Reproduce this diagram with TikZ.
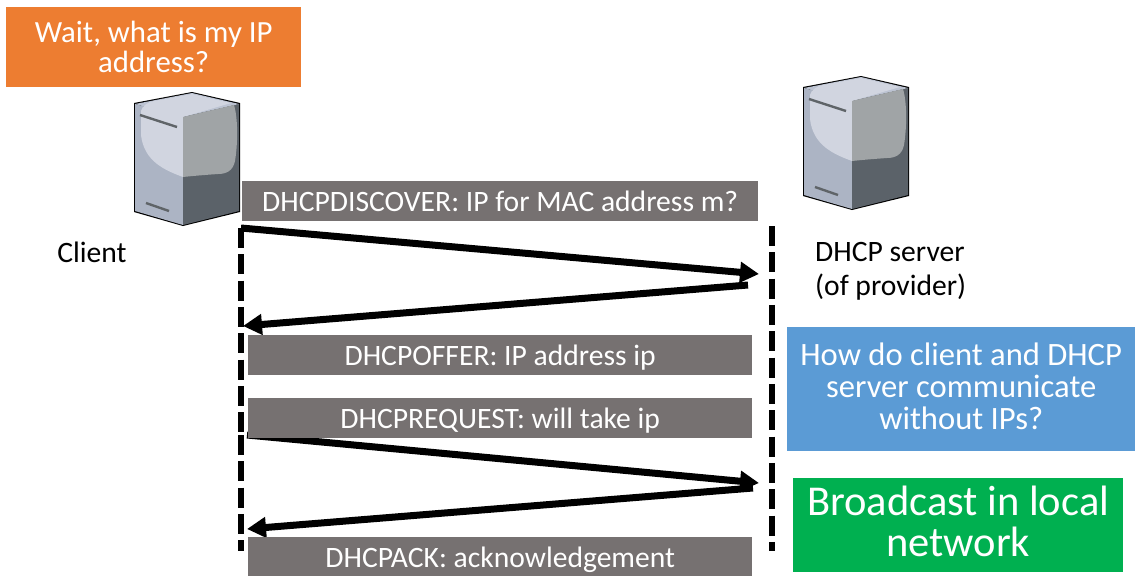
\documentclass[tikz,border=0pt]{standalone}
\usepackage{fontspec}
\setmainfont{Carlito}
\usetikzlibrary{arrows.meta}
\definecolor{cOrange}{HTML}{ED7D31}
\definecolor{cBlue}{HTML}{5B9BD5}
\definecolor{cGreen}{HTML}{00B050}
\definecolor{cGray}{HTML}{767171}
\definecolor{cHiL}{HTML}{D1D5E0}
\definecolor{cLeft}{HTML}{ACB4C4}
\definecolor{cRightDark}{HTML}{5B6269}
\definecolor{cTopFrame}{HTML}{BCC3D2}
\definecolor{cHiR}{HTML}{A0A4A6}
\definecolor{cSlot}{HTML}{5F6468}
\newcommand\liftText[2]{\raisebox{#1}[\height][\depth]{\begin{tabular}{@{}c@{}}#2\end{tabular}}}
\tikzset{
  x=1pt,y=-1pt,
  msgbox/.style={fill=cGray,text=white,inner sep=0pt,font=\fontsize{29.6}{32}\selectfont,anchor=north west,align=center},
  notebox/.style={text=white,inner sep=0pt,anchor=north west,align=center},
  label/.style={inner sep=0pt,font=\fontsize{29.6}{34}\selectfont,text=black},
  lifeline/.style={line width=6.5pt,dash pattern=on 20pt off 6.33pt,draw=black},
  msg/.style={line width=7pt,draw=black,-{Triangle[length=19pt,width=20pt]}},
  pics/serverbox/.style={code={
    \fill[fill=black] (0,0) -- (58,-11) -- (106,0) -- (106,109) -- (49,123) -- (0,109) -- cycle;
    \fill[fill=cLeft] (1,1) -- (49,14) -- (49,122) -- (1,108) -- cycle;
    \fill[fill=cRightDark] (49,14) -- (105,1) -- (105,108) -- (49,122) -- cycle;
    \fill[fill=cTopFrame] (1,1) -- (58,-10) -- (105,1) -- (49,14) -- cycle;
    \fill[fill=cHiL] (7,8) .. controls (8,3) and (14,-1) .. (20,-2) -- (58,-9) -- (97,0) -- (49,14) -- (49,74)
       .. controls (30,67) and (10,58) .. (7,32) -- cycle;
    \fill[fill=cHiR] (49,14) -- (100,2) .. controls (104,15) and (104,40) .. (101,58)
       .. controls (99,68) and (92,71) .. (84,71) .. controls (70,72) and (58,73) .. (49,74) -- cycle;
    \draw[draw=cSlot,line width=2.4pt] (6,12) -- (43,24);
    \draw[draw=cSlot,line width=2.4pt] (12,100) -- (35,108);
  }},
}
\begin{document}
\begin{tikzpicture}
\useasboundingbox (0,0) rectangle (1141,576);
\fill[white] (0,0) rectangle (1141,576);

\pic (clienticon) at (134,103) {serverbox};
\pic (servericon) at (803,87) {serverbox};

\coordinate (leftA) at (241,228);
\coordinate (leftB) at (241,433);
\coordinate (leftC) at (241,435);
\coordinate (leftD) at (241,551);
\coordinate (rightA) at (772,226);
\coordinate (rightB) at (772,551);
\draw[lifeline] (leftA) -- (leftB);
\draw[lifeline] (leftC) -- (leftD);
\draw[lifeline] (rightA) -- (rightB);

\coordinate (a1s) at (241,228);
\coordinate (a1e) at (759,274);
\coordinate (a2s) at (748,285);
\coordinate (a2e) at (243,326);
\coordinate (a3s) at (247,435);
\coordinate (a3e) at (759,483);
\coordinate (a4s) at (753,488);
\coordinate (a4e) at (247,529);
\draw[msg] (a1s) -- (a1e);
\draw[msg] (a2s) -- (a2e);
\draw[msg] (a3s) -- (a3e);
\draw[msg] (a4s) -- (a4e);

\node[notebox,fill=cOrange,minimum width=295pt,minimum height=80pt,font=\fontsize{30.8}{29}\selectfont] (wait) at (6,7) {\liftText{-3.5pt}{Wait, what is my IP\\address?}};
\node[msgbox,minimum width=516pt,minimum height=40pt] (discover) at (242,181) {DHCPDISCOVER: IP for MAC address m?};
\node[msgbox,minimum width=504pt,minimum height=40pt] (offer) at (248,335) {\liftText{-4pt}{DHCPOFFER: IP address ip}};
\node[msgbox,minimum width=504pt,minimum height=40pt] (request) at (248,398) {\liftText{-4pt}{DHCPREQUEST: will take ip}};
\node[msgbox,minimum width=504pt,minimum height=39pt] (ack) at (248,537) {\liftText{-4pt}{DHCPACK: acknowledgement}};
\node[notebox,fill=cBlue,minimum width=348pt,minimum height=124pt,font=\fontsize{32.6}{31.5}\selectfont] (how) at (787,327) {\liftText{-2pt}{How do client and DHCP\\server communicate\\without IPs?}};
\node[notebox,fill=cGreen,minimum width=330pt,minimum height=94pt,font=\fontsize{42.5}{40}\selectfont] (bcast) at (793,478) {\liftText{-2pt}{Broadcast in local\\network}};
\node[label] (client) at (92,252) {Client};
\node[label,anchor=west,align=left] (dhcp) at (815,271) {DHCP server\\(of provider)};
\end{tikzpicture}
\end{document}
